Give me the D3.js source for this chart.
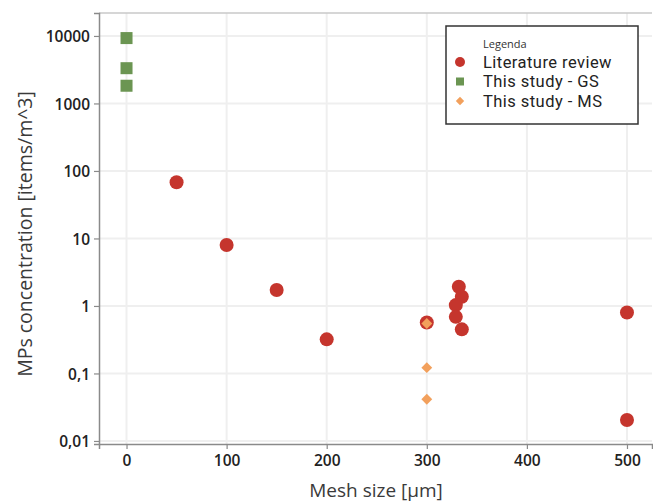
<!DOCTYPE html>
<html><head><meta charset="utf-8">
<script src="https://cdn.jsdelivr.net/npm/d3@7"></script>
<style>body{margin:0;background:#fff}svg{display:block}text{font-family:"Open Sans","Noto Sans",sans-serif}</style>
</head><body><svg id="c" width="653" height="502"></svg>
<script>
const litX = [50, 100, 150, 200, 300, 332, 335, 329, 329, 335, 500, 500];
const litY = [68, 8.0, 1.72, 0.32, 0.57, 1.93, 1.37, 1.03, 0.69, 0.45, 0.80, 0.0204];
const gsX = [0, 0, 0];
const gsY = [9300, 3330, 1830];
const msX = [300, 300, 300];
const msY = [0.55, 0.122, 0.0415];
const xTicks = [0, 100, 200, 300, 400, 500];
const yTicks = [0.01, 0.1, 1, 10, 100, 1000, 10000];
const yTickLabels = ["0,01", "0,1", "1", "10", "100", "1000", "10000"];
const seriesNames = ["Literature review", "This study - GS", "This study - MS"];
const colors = ["#c5352d", "#6b9552", "#f2a05c"];

const svg = d3.select("#c");
const L = 99, R = 652, T = 13, B = 444;
const x = d3.scaleLinear().domain([-27.5, 525]).range([L, R]);
const y = d3.scaleLog().domain([Math.pow(10, -2.045), Math.pow(10, 4.34)]).range([B, T]);

// gridlines
const g = svg.append("g");
g.selectAll(".gx").data(xTicks).join("line")
  .attr("x1", d => x(d)).attr("x2", d => x(d)).attr("y1", T).attr("y2", B)
  .attr("stroke", "#efefef").attr("stroke-width", 2);
g.selectAll(".gy").data(yTicks).join("line")
  .attr("x1", L).attr("x2", R).attr("y1", d => y(d)).attr("y2", d => y(d))
  .attr("stroke", "#efefef").attr("stroke-width", 2);
svg.append("line").attr("x1", L).attr("x2", R).attr("y1", T).attr("y2", T).attr("stroke", "#c8c8c8").attr("stroke-width", 1.5);

// axes
const xAxis = svg.append("g").attr("transform", `translate(0,${B})`)
  .call(d3.axisBottom(x).tickValues(xTicks).tickSize(5).tickPadding(6).tickFormat(d3.format("d")));
const yAxis = svg.append("g").attr("transform", `translate(${L},0)`)
  .call(d3.axisLeft(y).tickValues(yTicks).tickSize(5).tickPadding(4).tickFormat((d, i) => yTickLabels[i]));
[xAxis, yAxis].forEach(a => {
  a.select(".domain").attr("stroke", "#8a8a8a").attr("stroke-width", 1.5);
  a.selectAll(".tick line").attr("stroke", "#8a8a8a").attr("stroke-width", 1.2);
  a.selectAll(".tick text").attr("fill", "#222").attr("font-size", 15.5).attr("font-weight", 600)
    .style("font-family", '"Open Sans","Noto Sans",sans-serif');
});
yAxis.selectAll(".tick text").attr("dy", "0.36em");

// titles
svg.append("text").attr("x", 376).attr("y", 497).attr("text-anchor", "middle")
  .attr("font-size", 19).attr("fill", "#3a3a3a").text("Mesh size [µm]");
svg.append("text").attr("transform", "translate(32,234) rotate(-90)").attr("text-anchor", "middle")
  .attr("font-size", 19.5).attr("fill", "#3a3a3a").text("MPs concentration [items/m^3]");

// data
const lit = litX.map((d, i) => ({x: d, y: litY[i]}));
const gs = gsX.map((d, i) => ({x: d, y: gsY[i]}));
const ms = msX.map((d, i) => ({x: d, y: msY[i]}));
svg.append("g").selectAll("circle").data(lit).join("circle")
  .attr("cx", d => x(d.x)).attr("cy", d => y(d.y)).attr("r", 7).attr("fill", colors[0]);
svg.append("g").selectAll("rect").data(gs).join("rect")
  .attr("x", d => x(d.x) - 6).attr("y", d => y(d.y) - 6).attr("width", 12).attr("height", 12).attr("fill", colors[1]);
const diamond = d3.symbol().type(d3.symbolDiamond2).size(75);
svg.append("g").selectAll("path").data(ms).join("path")
  .attr("transform", d => `translate(${x(d.x)},${y(d.y)})`).attr("d", diamond).attr("fill", colors[2]);

// legend
const lg = svg.append("g");
lg.append("rect").attr("x", 446).attr("y", 26).attr("width", 192).attr("height", 98)
  .attr("fill", "#fff").attr("stroke", "#333").attr("stroke-width", 1.5);
lg.append("text").attr("x", 483).attr("y", 48).attr("font-size", 11).attr("fill", "#333").text("Legenda");
const ly = [62, 81.5, 101];
lg.append("circle").attr("cx", 460).attr("cy", ly[0]).attr("r", 5).attr("fill", colors[0]);
lg.append("rect").attr("x", 456).attr("y", ly[1] - 4).attr("width", 8).attr("height", 8).attr("fill", colors[1]);
lg.append("path").attr("transform", `translate(460,${ly[2]})`).attr("d", d3.symbol().type(d3.symbolDiamond2).size(45)).attr("fill", colors[2]);
seriesNames.forEach((n, i) => {
  lg.append("text").attr("x", 483).attr("y", ly[i]).attr("dy", "0.36em").attr("font-size", 16.5)
    .attr("letter-spacing", 0.45)
    .style("font-family", "Roboto, sans-serif")
    .attr("fill", "#222").text(n);
});
</script></body></html>
